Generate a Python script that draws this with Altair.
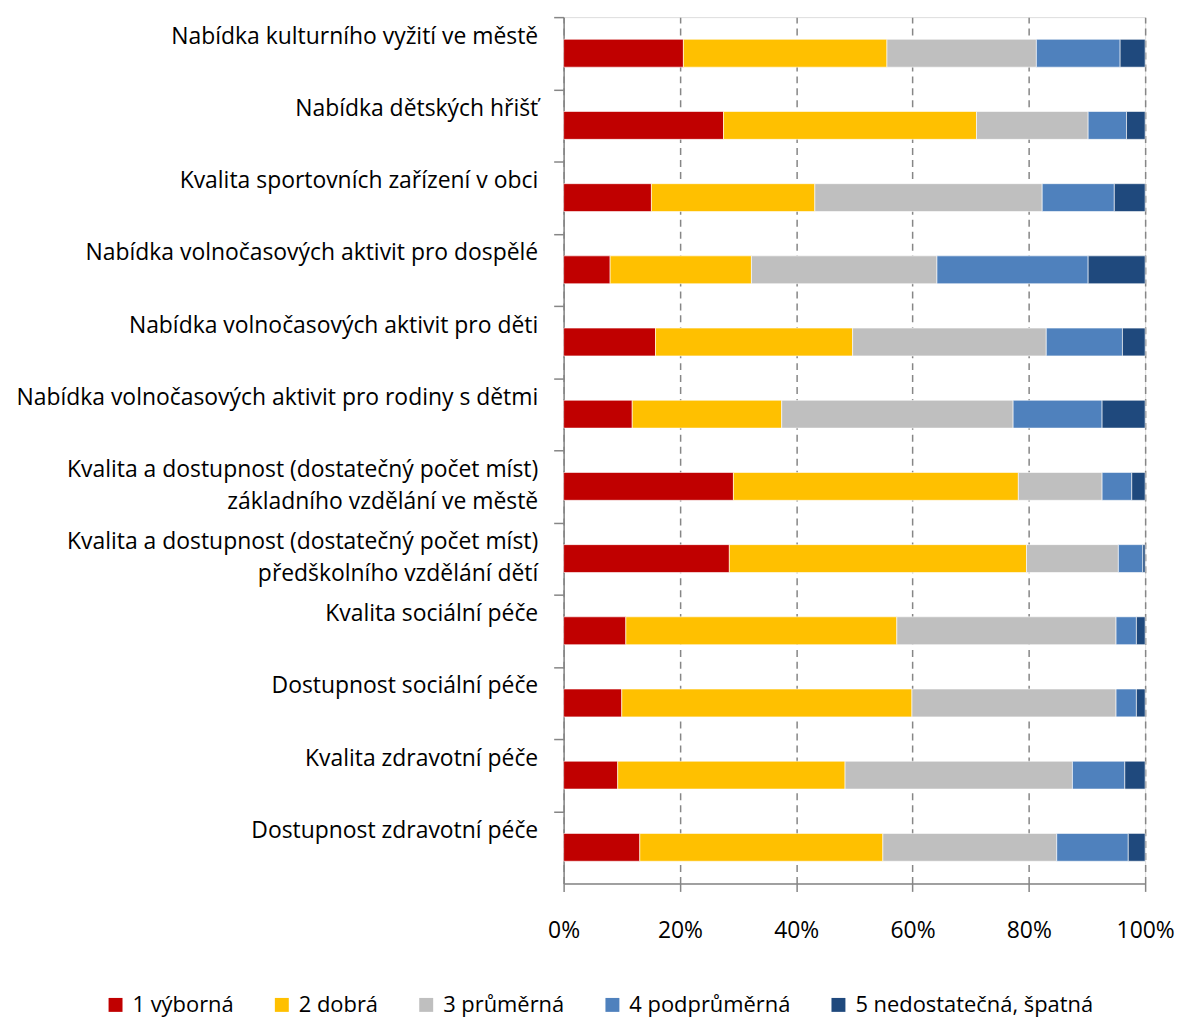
import altair as alt
import pandas as pd

categories = [
    "Nabídka kulturního vyžití ve městě",
    "Nabídka dětských hřišť",
    "Kvalita sportovních zařízení v obci",
    "Nabídka volnočasových aktivit pro dospělé",
    "Nabídka volnočasových aktivit pro děti",
    "Nabídka volnočasových aktivit pro rodiny s dětmi",
    "Kvalita a dostupnost (dostatečný počet míst)|základního vzdělání ve městě",
    "Kvalita a dostupnost (dostatečný počet míst)|předškolního vzdělání dětí",
    "Kvalita sociální péče",
    "Dostupnost sociální péče",
    "Kvalita zdravotní péče",
    "Dostupnost zdravotní péče",
]
series = ["1 výborná", "2 dobrá", "3 průměrná", "4 podprůměrná", "5 nedostatečná, špatná"]
s1 = [20.6, 27.5, 15.1, 8.0, 15.8, 11.8, 29.2, 28.5, 10.7, 10.0, 9.3, 13.1]
s2 = [35.0, 43.5, 28.1, 24.3, 33.9, 25.7, 49.0, 51.1, 46.6, 49.9, 39.1, 41.8]
s3 = [25.7, 19.2, 39.1, 31.9, 33.3, 39.8, 14.4, 15.8, 37.7, 35.1, 39.1, 29.9]
s4 = [14.4, 6.6, 12.4, 26.0, 13.1, 15.3, 5.1, 4.2, 3.5, 3.5, 9.0, 12.3]
s5 = [4.3, 3.2, 5.3, 9.8, 3.9, 7.4, 2.3, 0.4, 1.5, 1.5, 3.5, 2.9]
colors = ["#C00000", "#FFC000", "#BFBFBF", "#4F81BD", "#1F497D"]
x_ticks = [0, 0.2, 0.4, 0.6, 0.8, 1.0]

rows = []
for si, (name, vals) in enumerate(zip(series, [s1, s2, s3, s4, s5])):
    for cat, v in zip(categories, vals):
        rows.append({"category": cat, "series": name, "idx": si, "value": v})
df = pd.DataFrame(rows)

FONT = "Open Sans"
AX = "#868686"
STEP = 870 / 12

chart = alt.Chart(df).mark_bar(stroke="white", strokeWidth=0.6).encode(
    x=alt.X(
        "value:Q",
        stack="normalize",
        scale=alt.Scale(domain=[0, 1], nice=False),
        axis=alt.Axis(
            format="%", values=x_ticks, title=None,
            grid=True, gridDash=[7, 5], gridColor=AX, gridWidth=1.5,
            tickSize=8, tickColor=AX, tickWidth=1.5,
            domainColor=AX, domainWidth=1.5,
            labelFont=FONT, labelFontSize=23, labelColor="black",
            labelPadding=28, labelFlush=False,
        ),
    ),
    y=alt.Y(
        "category:N",
        sort=categories,
        scale=alt.Scale(paddingInner=0.614, paddingOuter=0.307),
        axis=alt.Axis(
            title=None, labelExpr="split(datum.label, '|')",
            labelLineHeight=32, tickOffset=-STEP / 2, labelOffset=STEP / 2 - 17,
            tickSize=10,
            tickColor=AX, tickWidth=1.5, domainColor=AX, domainWidth=1.5,
            labelFont=FONT, labelFontSize=23, labelColor="black",
            labelPadding=16, labelLimit=700, labelAlign="right",
        ),
    ),
    color=alt.Color(
        "series:N",
        scale=alt.Scale(domain=series, range=colors),
        legend=alt.Legend(
            title=None, orient="none", legendX=-461, legendY=981,
            direction="horizontal", symbolType="square", symbolSize=196,
            symbolStrokeWidth=0, labelFont=FONT, labelFontSize=22,
            labelColor="black", columnPadding=37, labelOffset=6,
            labelLimit=400,
        ),
    ),
    order=alt.Order("idx:Q"),
).properties(
    width=584, height=870,
    autosize=alt.AutoSizeParams(type="none"),
    padding={"left": 558, "top": 7, "right": 32, "bottom": 137},
).configure_view(stroke=None).configure(background="white")

chart.save("out.html", embed_options={"renderer": "svg", "actions": False})
